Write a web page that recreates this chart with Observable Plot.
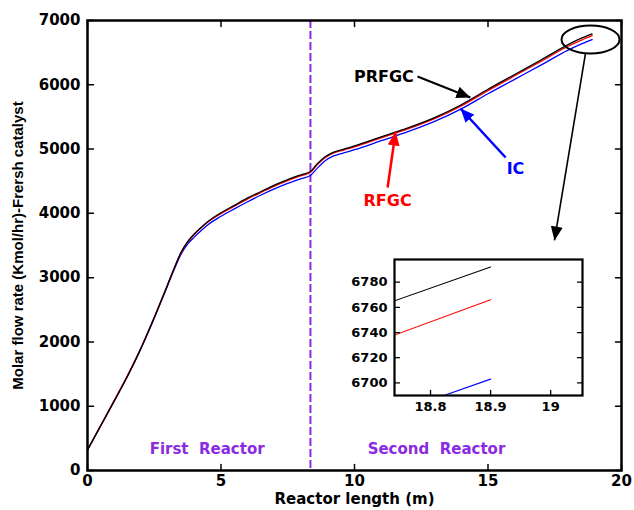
<!DOCTYPE html>
<html>
<head>
<meta charset="utf-8">
<script src="https://cdn.jsdelivr.net/npm/d3@7"></script>
<script src="https://cdn.jsdelivr.net/npm/@observablehq/plot@0.6"></script>
<style>
  body { margin: 0; background: white; }
  #wrap { position: relative; width: 634px; height: 510px; }
  #inset { position: absolute; left: 340px; top: 250px; }
</style>
</head>
<body>
<div id="wrap"><div id="main"></div><div id="inset"></div></div>
<script>
// ---- data ----
const xPos  = [0, 0.5, 1, 1.5, 2, 2.5, 3, 3.25, 3.5, 3.75, 4, 4.25, 4.5, 5, 5.5, 6, 6.5, 7, 7.5, 8, 8.35, 8.6, 8.9, 9.2, 9.6, 10, 11, 12, 13, 14, 15, 16, 17, 18, 18.5, 18.9];
const prfgc = [320, 700, 1080, 1470, 1900, 2380, 2890, 3150, 3390, 3560, 3680, 3780, 3870, 4010, 4125, 4240, 4340, 4440, 4525, 4600, 4650, 4770, 4880, 4950, 5000, 5050, 5190, 5330, 5490, 5690, 5930, 6160, 6390, 6625, 6725, 6792];
const rfgc  = [320, 705, 1090, 1480, 1905, 2385, 2890, 3148, 3385, 3552, 3670, 3770, 3860, 3995, 4110, 4225, 4325, 4425, 4510, 4585, 4635, 4755, 4865, 4935, 4985, 5035, 5175, 5315, 5475, 5672, 5910, 6140, 6368, 6600, 6696, 6766];
const ic    = [320, 700, 1080, 1465, 1895, 2370, 2875, 3130, 3360, 3520, 3630, 3730, 3820, 3955, 4070, 4180, 4285, 4380, 4465, 4540, 4590, 4700, 4820, 4890, 4940, 4990, 5130, 5270, 5430, 5625, 5860, 6085, 6310, 6540, 6636, 6703];

const xTicks = [0, 5, 10, 15, 20];
const yTicks = [0, 1000, 2000, 3000, 4000, 5000, 6000, 7000];
const xDomain = [0, 20];
const yDomain = [0, 7000];

const insetXTicks = [18.8, 18.9, 19];
const insetYTicks = [6700, 6720, 6740, 6760, 6780];
const insetXDomain = [18.74, 19.053];
const insetYDomain = [6690, 6798];

const reactorBoundary = [8.35];
const regionNames = ["First  Reactor", "Second  Reactor"];
const regionX = [4.48, 13.07];
const regionY = [327, 327];

const seriesNames = ["PRFGC", "RFGC", "IC"];
const seriesColors = ["#000000", "#ff0000", "#0000ff"];
const labelX = [11.10, 11.24, 16.03];
const labelY = [6129, 4200, 4698];
const arrowX1 = [12.36, 11.24, 15.66];
const arrowY1 = [6129, 4402, 4869];
const arrowX2 = [14.34, 11.54, 13.97];
const arrowY2 = [5802, 5273, 5631];

const zoomCenter = [18.84, 6704];
const zoomArrow = [18.65, 6486, 17.49, 3578];

const xLabel = "Reactor length (m)";
const yLabel = "Molar flow rate (Kmol/hr)-Frersh catalyst";

// ---- tables ----
const series = [prfgc, rfgc, ic];
const rows = [];
[2, 1, 0].forEach(k => xPos.forEach((x, i) => rows.push({x, y: series[k][i], s: seriesNames[k], c: seriesColors[k]})));
const regions = regionNames.map((label, i) => ({label, x: regionX[i], y: regionY[i]}));
const notes = seriesNames.map((name, i) => ({name, color: seriesColors[i], lx: labelX[i], ly: labelY[i], x1: arrowX1[i], y1: arrowY1[i], x2: arrowX2[i], y2: arrowY2[i]}));

const purple = "#8a2be2";
const tickShape = {draw(ctx, l) { ctx.moveTo(0, 0); ctx.lineTo(0, -l); }};
const ellipseShape = {draw(ctx) {
  const rx = 29, ry = 14, k = 0.5523;
  ctx.moveTo(rx, 0);
  ctx.bezierCurveTo(rx, ry * k, rx * k, ry, 0, ry);
  ctx.bezierCurveTo(-rx * k, ry, -rx, ry * k, -rx, 0);
  ctx.bezierCurveTo(-rx, -ry * k, -rx * k, -ry, 0, -ry);
  ctx.bezierCurveTo(rx * k, -ry, rx, -ry * k, rx, 0);
  ctx.closePath();
}};
function head(color) {
  const m = document.createElementNS("http://www.w3.org/2000/svg", "marker");
  m.setAttribute("viewBox", "-14 -6 14 12");
  m.setAttribute("markerUnits", "userSpaceOnUse");
  m.setAttribute("markerWidth", 14);
  m.setAttribute("markerHeight", 12);
  m.setAttribute("refX", 0);
  m.setAttribute("refY", 0);
  m.setAttribute("orient", "auto");
  const p = document.createElementNS("http://www.w3.org/2000/svg", "path");
  p.setAttribute("d", "M-14,-6L0,0L-14,6Z");
  p.setAttribute("fill", color);
  p.setAttribute("stroke", "none");
  m.appendChild(p);
  return m;
}

function inwardTicks(xs, ys, xd, yd, len, sw) {
  return [
    Plot.vector(xs, {x: d => d, y: () => yd[0], length: len, rotate: 0, anchor: "start", shape: tickShape, strokeWidth: sw}),
    Plot.vector(xs, {x: d => d, y: () => yd[1], length: len, rotate: 180, anchor: "start", shape: tickShape, strokeWidth: sw}),
    Plot.vector(ys, {x: () => xd[0], y: d => d, length: len, rotate: 90, anchor: "start", shape: tickShape, strokeWidth: sw}),
    Plot.vector(ys, {x: () => xd[1], y: d => d, length: len, rotate: -90, anchor: "start", shape: tickShape, strokeWidth: sw})
  ];
}

const main = Plot.plot({
  width: 634, height: 510,
  marginLeft: 87, marginRight: 13, marginTop: 20, marginBottom: 40,
  style: {fontFamily: "DejaVu Sans", fontWeight: "bold", fontSize: "15px", background: "white", color: "black"},
  x: {domain: xDomain},
  y: {domain: yDomain},
  marks: [
    Plot.ruleX(reactorBoundary, {stroke: purple, strokeWidth: 2, strokeDasharray: "8,3"}),
    Plot.line(rows, {x: "x", y: "y", z: "s", stroke: "c", strokeWidth: 1.3, curve: "monotone-x"}),
    Plot.text(regions, {x: "x", y: "y", text: "label", fill: purple, fontSize: 15}),
    ...notes.map(n => Plot.link([n], {x1: "x1", y1: "y1", x2: "x2", y2: "y2", stroke: n.color, strokeWidth: n.name === "PRFGC" ? 2 : 2.5, markerEnd: () => head(n.color)})),
    Plot.text(notes, {x: "lx", y: "ly", text: "name", fill: "color", fontSize: 16}),
    Plot.dot([zoomCenter], {x: d => d[0], y: d => d[1], symbol: ellipseShape, stroke: "black", strokeWidth: 2, fill: "none"}),
    Plot.link([zoomArrow], {x1: d => d[0], y1: d => d[1], x2: d => d[2], y2: d => d[3], stroke: "black", strokeWidth: 1.6, markerEnd: () => head("black")}),
    Plot.axisX({ticks: xTicks, tickSize: 0, tickPadding: 5, label: null, tickFormat: d => String(d)}),
    Plot.axisY({ticks: yTicks, tickSize: 0, tickPadding: 7, label: null, tickFormat: d => String(d)}),
    ...inwardTicks(xTicks, yTicks, xDomain, yDomain, 6, 1.5),
    Plot.frame({stroke: "black", strokeWidth: 2.5}),
    Plot.text([xLabel], {frameAnchor: "bottom", dy: 33, text: d => d, fontSize: 15}),
    Plot.text([yLabel], {frameAnchor: "left", textAnchor: "middle", dx: -69, rotate: -90, text: d => d, fontSize: 15, fontFamily: "Liberation Sans"})
  ]
});
document.getElementById("main").appendChild(main);

const inset = Plot.plot({
  width: 250, height: 175,
  marginLeft: 54, marginRight: 8, marginTop: 9, marginBottom: 30,
  style: {fontFamily: "DejaVu Sans", fontWeight: "bold", fontSize: "13px", background: "transparent", color: "black"},
  x: {domain: insetXDomain},
  y: {domain: insetYDomain},
  marks: [
    Plot.line(rows, {x: "x", y: "y", z: "s", stroke: "c", strokeWidth: 1.1, clip: true}),
    Plot.axisX({ticks: insetXTicks, tickSize: 0, tickPadding: 6, label: null, tickFormat: d => String(d)}),
    Plot.axisY({ticks: insetYTicks, tickSize: 0, tickPadding: 7, label: null, tickFormat: d => String(d)}),
    Plot.vector(insetXTicks, {x: d => d, y: () => insetYDomain[0], length: 5, rotate: 0, anchor: "start", shape: tickShape, strokeWidth: 1.3}),
    Plot.vector(insetYTicks, {x: () => insetXDomain[0], y: d => d, length: 5, rotate: 90, anchor: "start", shape: tickShape, strokeWidth: 1.3}),
    Plot.vector(insetYTicks, {x: () => insetXDomain[1], y: d => d, length: 5, rotate: -90, anchor: "start", shape: tickShape, strokeWidth: 1.3}),
    Plot.frame({stroke: "black", strokeWidth: 2.2})
  ]
});
document.getElementById("inset").appendChild(inset);
</script>
</body>
</html>
